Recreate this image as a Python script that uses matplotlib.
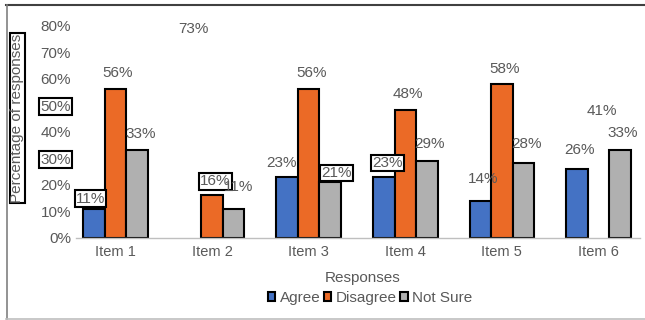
import numpy as np
import matplotlib.pyplot as plt
from matplotlib.lines import Line2D
from matplotlib.patches import Patch

plt.rcParams['font.family'] = ['Liberation Sans', 'DejaVu Sans']

items = ["Item 1", "Item 2", "Item 3", "Item 4", "Item 5", "Item 6"]
series = ["Agree", "Disagree", "Not Sure"]
agree = [11, 73, 23, 23, 14, 26]
disagree = [56, 16, 56, 48, 58, 41]
not_sure = [33, 11, 21, 29, 28, 33]
colors = ["#4472C4", "#EB6A26", "#B0B0B0"]

# bars left out of the plot (only their labels show)
hidden = [(0, 1), (1, 5)]
# data labels drawn inside a box
boxed = [(0, 0), (1, 1), (2, 2), (0, 3)]
# label nudges in pixels (dx, dy above bar top), per series then item
nudge = [
    [(-3.5, 10), (3, 15), (-5.8, 13.7), (3.7, 14), (2.8, 21.7), (2.8, 18.3)],
    [(2.5, 16), (3.3, 14), (2.6, 16), (2.9, 16.4), (2.8, 14.7), (3.8, 18)],
    [(3.8, 16.7), (5.2, 21.4), (6.7, 9.2), (2.7, 17), (2.7, 19), (2.7, 17.4)],
]

text_col = "#595959"
W, H = 645, 320
fig = plt.figure(figsize=(W / 100, H / 100), dpi=100)
ax = fig.add_axes([76 / W, 82.3 / H, 564 / W, 212 / H])

x = np.arange(len(items))
w = 0.2226
values = [agree, disagree, not_sure]
for s, vals in enumerate(values):
    bars = ax.bar(x + (s - 1) * w, vals, w, color=colors[s],
                  edgecolor="black", linewidth=1.5, label=series[s], zorder=2)
    for i, b in enumerate(bars):
        if (s, i) in hidden:
            b.set_visible(False)
        dx, dy = nudge[s][i]
        t = ax.annotate(f"{vals[i]}%", (b.get_x() + b.get_width() / 2, b.get_height()),
                        xytext=(dx, dy), textcoords="offset pixels",
                        ha="center", va="center", fontsize=11, color=text_col, zorder=4)
        if (s, i) in boxed:
            t.set_bbox(dict(boxstyle="square,pad=0.08", fc="white", ec="black", lw=1.5))

ax.set_xlim(-0.409, 5.43)
ax.set_ylim(0, 80)
ax.set_yticks(np.arange(0, 81, 10))
ax.set_yticklabels([f"{v}%" for v in range(0, 81, 10)])
ax.set_xticks(x)
ax.set_xticklabels(items)
ax.tick_params(axis="y", length=0, pad=3.6, labelsize=11, labelcolor=text_col)
ax.tick_params(axis="x", length=0, pad=5, labelsize=10.5, labelcolor=text_col)
for lab in ax.get_yticklabels():
    if lab.get_text() in ("50%", "30%"):
        lab.set_bbox(dict(boxstyle="square,pad=0.08", fc="white", ec="black", lw=1.5))

for sp in ("top", "right", "left"):
    ax.spines[sp].set_visible(False)
ax.spines["bottom"].set_color("#BFBFBF")
ax.spines["bottom"].set_linewidth(1)

ax.set_xlabel("Responses", fontsize=11, color=text_col)
ax.xaxis.set_label_coords((363 - 76) / 564, -(271 - 237.7) / 212)
ax.set_ylabel("Percentage of responses", fontsize=11, color=text_col,
              bbox=dict(boxstyle="square,pad=0.05", fc="white", ec="black", lw=1.5))
ax.yaxis.set_label_coords((24.5 - 76) / 564, (237.7 - 118) / 212)

handles = [Patch(facecolor=c, edgecolor="black", linewidth=1.5) for c in colors]
fig.legend(handles, series, loc="center", bbox_to_anchor=(370 / W, 1 - 298 / H),
           ncol=3, frameon=False, fontsize=11, labelcolor=text_col,
           handlelength=0.5, handleheight=0.5, handletextpad=0.3, columnspacing=0.2)

# chart area border
fig.add_artist(Line2D([6 / W, 1], [1 - 5 / H] * 2, color="#404040", lw=1.5))
fig.add_artist(Line2D([6.5 / W] * 2, [1 - 5 / H, 1 - 319 / H], color="#808080", lw=1.2))
fig.add_artist(Line2D([6 / W, 1], [1 - 319 / H] * 2, color="#BFBFBF", lw=1.2))

fig.savefig("out.png", dpi=100)
